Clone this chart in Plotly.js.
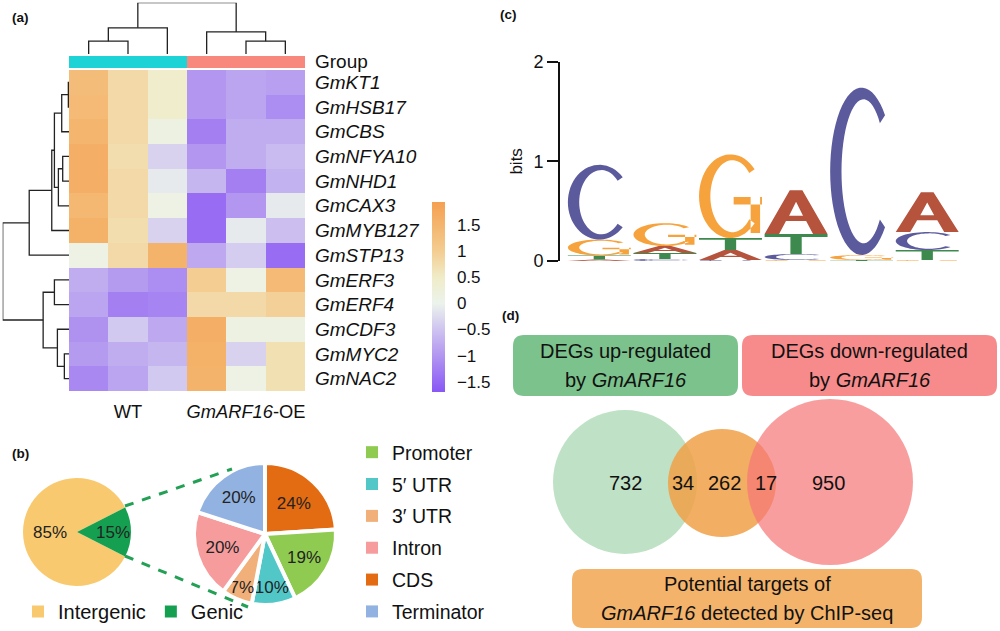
<!DOCTYPE html>
<html><head><meta charset="utf-8">
<script src="https://cdn.plot.ly/plotly-3.0.1.min.js"></script>
<style>html,body{margin:0;padding:0;background:#fff}#chart{width:1000px;height:631px}</style>
</head><body><div id="chart"></div>
<script>
// ================= DATA =================
// (a) heatmap
const genes = ['GmKT1','GmHSB17','GmCBS','GmNFYA10','GmNHD1','GmCAX3','GmMYB127','GmSTP13','GmERF3','GmERF4','GmCDF3','GmMYC2','GmNAC2'];
const sampleGroup = [0,0,0,1,1,1];
const groupNames = ['WT','<i>GmARF16</i>-OE'];
const expr = [
  [ 1.35, 0.80, 0.45,-1.00,-0.85,-0.90],
  [ 1.40, 0.80, 0.45,-1.00,-0.85,-1.10],
  [ 1.50, 0.80, 0.15,-1.25,-0.75,-0.75],
  [ 1.65, 0.75,-0.35,-1.00,-0.75,-0.60],
  [ 1.65, 0.80,-0.10,-0.65,-1.25,-0.70],
  [ 1.45, 0.80, 0.10,-1.45,-1.00,-0.10],
  [ 1.60, 0.75,-0.35,-1.45,-0.10,-0.55],
  [ 0.10, 0.80, 1.55,-0.80,-0.40,-1.45],
  [-0.75,-0.95,-1.10, 1.00, 0.10, 1.40],
  [-0.85,-1.25,-1.20, 0.80, 0.80, 0.95],
  [-1.05,-0.45,-0.80, 1.65, 0.15, 0.15],
  [-0.95,-0.75,-0.65, 1.60,-0.35, 0.70],
  [-1.15,-0.85,-0.45, 1.55, 0.10, 0.70]
];
// hierarchical clustering merges: [childA, childB, height]; leaves 0..n-1, merged clusters n, n+1, ...
const rowLinkage = [[0,1,0.1],[13,2,1.1],[3,4,0.95],[15,5,1.6],[14,16,2.2],[17,6,2.6],[18,7,6.0],
                    [8,9,2.2],[11,12,0.7],[10,21,1.75],[20,22,3.9],[19,23,10]];
const colLinkage = [[0,1,2.5],[6,2,5.1],[4,5,2.5],[3,8,4.3],[7,9,10]];
const cbTicks = [-1.5,-1,-0.5,0,0.5,1,1.5];

// (b) pies
const pie1Labels = ['Intergenic','Genic'];
const pie1Values = [85,15];
const pie2Labels = ['CDS','Promoter','5\u2032 UTR','3\u2032 UTR','Intron','Terminator'];
const pie2Values = [24,19,10,7,20,20];
const legend2Order = ['Promoter','5\u2032 UTR','3\u2032 UTR','Intron','CDS','Terminator'];

// (c) sequence logo (bits per base per position)
const logoPositions = [1,2,3,4,5,6];
const bitsA = [0.015,0.07,0.10,0.44,0.00,0.40];
const bitsC = [0.75, 0.02,0.01,0.06,1.68,0.18];
const bitsG = [0.16, 0.23,0.84,0.01,0.05,0.01];
const bitsT = [0.04, 0.06,0.12,0.20,0.01,0.10];

// (d) Venn
const vennSets = [['DEGs up-regulated','by <i>GmARF16</i>'],['DEGs down-regulated','by <i>GmARF16</i>'],
                  ['Potential targets of','<i>GmARF16</i> detected by ChIP-seq']];
const vennCounts = [732,34,262,17,950];

// ================= STYLE =================
const FONT = 'Arial, "Liberation Sans", sans-serif';
const W = 1000, H = 631;
const px = v => v / W, py = v => 1 - v / H;
const pie1Colors = ['#f9c96f','#14a050'];
const pie2ColorMap = {'CDS':'#e36b12','Promoter':'#8ecb50','5\u2032 UTR':'#52c7c8','3\u2032 UTR':'#f1b07a','Intron':'#f69c9d','Terminator':'#92b3e2'};
const baseColors = {A:'#b5533c', C:'#5b5a9c', G:'#f7a33d', T:'#3e8a4e'};

// ================= HELPERS =================
function dendroLines(linkage, n) {
  const pos = [], ht = [];
  for (let i = 0; i < n; i++) { pos[i] = i; ht[i] = 0; }
  const P = [], Hh = [];
  linkage.forEach((m, k) => {
    const [a, b, h] = m, c = n + k;
    pos[c] = (pos[a] + pos[b]) / 2; ht[c] = h;
    P.push(pos[a], pos[a], pos[b], pos[b], null);
    Hh.push(ht[a], h, h, ht[b], null);
  });
  return {P, Hh};
}

// unit glyph outlines (x,y in 0..1)
function arcPts(cx, cy, rx, ry, a0, a1, steps) {
  const pts = [];
  for (let i = 0; i <= steps; i++) {
    const a = (a0 + (a1 - a0) * i / steps) * Math.PI / 180;
    pts.push([cx + rx * Math.cos(a), cy + ry * Math.sin(a)]);
  }
  return pts;
}
function glyphC(open) {
  const outer = arcPts(0.5, 0.5, 0.5, 0.5, open, 360 - open, 48);
  const inner = arcPts(0.53, 0.5, 0.35, 0.43, 360 - open, open, 48);
  return [outer.concat(inner)];
}
const GLYPHS = {
  A: [[[0,0],[0.40,1],[0.60,1],[1,0],[0.77,0],[0.66,0.30],[0.34,0.30],[0.23,0]],
      [[0.39,0.42],[0.61,0.42],[0.5,0.74]]],
  C: glyphC(42),
  G: glyphC(40).concat([[[0.55,0.40],[1.0,0.40],[1.0,0.49],[0.55,0.49]],
                        [[0.82,0.06],[0.97,0.06],[0.97,0.49],[0.82,0.49]]]),
  T: [[[0,1],[1,1],[1,0.85],[0.59,0.85],[0.59,0],[0.41,0],[0.41,0.85],[0,0.85]]]
};
function glyphPath(letter, xc, y0, h) {
  const w = 0.96;
  return GLYPHS[letter].map(poly => 'M' + poly.map(p =>
    (xc - w / 2 + p[0] * w).toFixed(4) + ',' + (y0 + p[1] * h).toFixed(4)).join('L') + 'Z').join(' ');
}

// ================= TRACES =================
const traces = [];
const rows = genes.map((g, i) => i);
const cols = sampleGroup.map((g, i) => i);

traces.push({
  type: 'heatmap', z: expr, x: cols, y: rows, xaxis: 'x', yaxis: 'y',
  zmin: -1.7, zmax: 1.95,
  colorscale: [[0,'rgb(137,87,245)'],[0.192,'rgb(178,150,240)'],[0.329,'rgb(207,196,240)'],
               [0.466,'rgb(236,243,236)'],[0.603,'rgb(240,236,200)'],[0.74,'rgb(243,205,145)'],[1,'rgb(245,160,80)']],
  colorbar: {x: px(432), xanchor: 'left', xpad: 0, ypad: 0, y: py(297), yanchor: 'middle',
             len: 190, lenmode: 'pixels', thickness: 13, outlinewidth: 0, ticks: 'outside', ticklen: 9,
             tickcolor: 'rgba(0,0,0,0)',
             tickvals: cbTicks, ticktext: cbTicks.map(v => String(v).replace('-', '\u2212')),
             tickfont: {family: FONT, size: 17, color: '#111'}},
  hoverinfo: 'skip'
});
traces.push({
  type: 'heatmap', z: [sampleGroup], x: cols, y: [0], xaxis: 'x', yaxis: 'y2',
  zmin: 0, zmax: 1, showscale: false,
  colorscale: [[0,'#1dd3d6'],[0.5,'#1dd3d6'],[0.5,'#f8877e'],[1,'#f8877e']], hoverinfo: 'skip'
});
const cd = dendroLines(colLinkage, sampleGroup.length);
traces.push({type: 'scatter', mode: 'lines', x: cd.P, y: cd.Hh, xaxis: 'x', yaxis: 'y3',
  line: {color: '#222', width: 1.3}, showlegend: false, hoverinfo: 'skip'});
const rd = dendroLines(rowLinkage, genes.length);
traces.push({type: 'scatter', mode: 'lines', x: rd.Hh, y: rd.P, xaxis: 'x2', yaxis: 'y',
  line: {color: '#222', width: 1.3}, showlegend: false, hoverinfo: 'skip'});

// pies
traces.push({
  type: 'pie', labels: pie1Labels, values: pie1Values, sort: false, direction: 'clockwise',
  rotation: 90 + (pie1Values[1] / 100) * 180,
  marker: {colors: pie1Colors}, texttemplate: '%{value}%', textposition: 'inside',
  insidetextorientation: 'horizontal', textfont: {family: FONT, size: 17, color: '#222'},
  domain: {x: [px(23), px(131)], y: [py(586), py(478)]}, legend: 'legend', hoverinfo: 'skip'
});
traces.push({
  type: 'pie', labels: pie2Labels, values: pie2Values, sort: false, direction: 'clockwise', rotation: 0,
  marker: {colors: pie2Labels.map(l => pie2ColorMap[l]), line: {color: '#fff', width: 4}},
  texttemplate: '%{value}%', textposition: 'inside', insidetextorientation: 'horizontal',
  textfont: {family: FONT, size: 17, color: '#222'}, showlegend: false,
  domain: {x: [px(194), px(336)], y: [py(605), py(463)]}, hoverinfo: 'skip'
});
// legend entries for the exploded pie
legend2Order.forEach(l => traces.push({
  type: 'scatter', mode: 'markers', x: [null], y: [null], xaxis: 'x3', yaxis: 'y4', name: l,
  legend: 'legend2', legendgroup: l, marker: {symbol: 'square', size: 12, color: pie2ColorMap[l]}
}));

// ================= SHAPES =================
const shapes = [];
// logo letters (stacked, smallest at bottom)
logoPositions.forEach((p, i) => {
  const stack = [['A', bitsA[i]], ['C', bitsC[i]], ['G', bitsG[i]], ['T', bitsT[i]]]
    .filter(s => s[1] > 0).sort((a, b) => a[1] - b[1]);
  let y0 = 0;
  stack.forEach(([L, h]) => {
    shapes.push({type: 'path', xref: 'x3', yref: 'y4', path: glyphPath(L, p, y0, h),
      fillcolor: baseColors[L], line: {width: 0}, layer: 'above'});
    y0 += h;
  });
});
// dashed connectors between pies
[[125,506,232,469],[125,556,248,607]].forEach(s => shapes.push({type: 'line', xref: 'paper', yref: 'paper',
  x0: px(s[0]), y0: py(s[1]), x1: px(s[2]), y1: py(s[3]), line: {color: '#22a055', width: 3, dash: 'dash'}}));
// Venn boxes
function rrect(x0, y0, x1, y1, r) {
  const X = px, Y = py, rx = r;
  return `M${X(x0+rx)},${Y(y0)} L${X(x1-rx)},${Y(y0)} Q${X(x1)},${Y(y0)} ${X(x1)},${Y(y0+rx)} L${X(x1)},${Y(y1-rx)} Q${X(x1)},${Y(y1)} ${X(x1-rx)},${Y(y1)} L${X(x0+rx)},${Y(y1)} Q${X(x0)},${Y(y1)} ${X(x0)},${Y(y1-rx)} L${X(x0)},${Y(y0+rx)} Q${X(x0)},${Y(y0)} ${X(x0+rx)},${Y(y0)} Z`;
}
const vennBoxes = [[513,335,738,396,'#7cc28c'],[742,335,997,396,'#f78b8b'],[572,569,922,628,'#f4b36a']];
vennBoxes.forEach(b =>
  shapes.push({type: 'path', xref: 'paper', yref: 'paper', path: rrect(b[0], b[1], b[2], b[3], 11),
    fillcolor: b[4], line: {width: 0}, layer: 'below'}));
// Venn circles
[[625,482,72,'rgba(128,196,140,0.5)'],[722,483,54,'rgba(240,160,70,0.85)'],[830,482,83,'rgba(245,120,120,0.72)']].forEach(c =>
  shapes.push({type: 'circle', xref: 'paper', yref: 'paper', x0: px(c[0]-c[2]), x1: px(c[0]+c[2]),
    y0: py(c[1]+c[2]), y1: py(c[1]-c[2]), fillcolor: c[3], line: {width: 0}, layer: 'below'}));

// ================= ANNOTATIONS =================
const ann = [];
const A = (x, y, text, size, opts) => ann.push(Object.assign({xref: 'paper', yref: 'paper', x: px(x), y: py(y),
  xanchor: 'center', yanchor: 'middle', text, showarrow: false, font: {family: FONT, size, color: '#111'}}, opts || {}));
A(10, 17, '<b>(a)</b>', 13.5, {xanchor: 'left'});
A(10, 453, '<b>(b)</b>', 13.5, {xanchor: 'left'});
A(498, 15, '<b>(c)</b>', 13.5, {xanchor: 'left'});
A(500, 315, '<b>(d)</b>', 13.5, {xanchor: 'left'});
A(313, 62, 'Group', 19, {xanchor: 'left'});
vennSets.forEach((lines, i) => {
  const b = vennBoxes[i], cx = (b[0] + b[2]) / 2, cy = (b[1] + b[3]) / 2;
  A(cx, cy - 14.5, lines[0], 20);
  A(cx, cy + 14.5, lines[1], 20);
});
const vennX = [625, 683, 724, 766, 828];
vennCounts.forEach((v, i) => A(vennX[i], 483, String(v), 20));

// ================= LAYOUT =================
const noAx = {visible: false, fixedrange: true};
const layout = {
  width: W, height: H, margin: {l: 0, r: 0, t: 0, b: 0}, paper_bgcolor: '#fff', plot_bgcolor: 'rgba(0,0,0,0)',
  font: {family: FONT, color: '#111'}, showlegend: true,
  uniformtext: {mode: 'show', minsize: 17},
  xaxis: {domain: [px(69), px(305)], range: [-0.5, 5.5], anchor: 'y', tickvals: [1, 4], ticktext: groupNames,
          ticks: '', showgrid: false, zeroline: false, showline: false, ticklabelstandoff: 8,
          tickfont: {family: FONT, size: 18.3, color: '#111'}, fixedrange: true},
  yaxis: {domain: [py(391), py(70)], range: [12.5, -0.5], anchor: 'x', side: 'right',
          tickvals: rows, ticktext: genes.map(g => '<i>' + g + '</i>'), ticks: '', showgrid: false,
          zeroline: false, showline: false, ticklabelstandoff: 9,
          tickfont: {family: FONT, size: 19, color: '#111'}, fixedrange: true},
  yaxis2: Object.assign({domain: [py(68), py(56)], anchor: 'x', range: [-0.5, 0.5]}, noAx),
  yaxis3: Object.assign({domain: [py(54), py(2.7)], anchor: 'x', range: [0, 10]}, noAx),
  xaxis2: Object.assign({domain: [px(2.7), px(69)], anchor: 'y', range: [10, 0]}, noAx),
  xaxis3: Object.assign({domain: [px(560), px(960)], anchor: 'y4', range: [0.4, 6.5]}, noAx),
  yaxis4: {domain: [py(261), py(61.7)], anchor: 'x3', range: [0, 2], tickvals: [0, 1, 2], showline: true,
           linewidth: 2, linecolor: '#111', ticks: 'outside', ticklen: 11, tickwidth: 2, tickcolor: '#111',
           showgrid: false, zeroline: false, tickfont: {family: FONT, size: 18, color: '#111'},
           title: {text: 'bits', font: {family: FONT, size: 17, color: '#111'}, standoff: 6}, fixedrange: true},
  legend: {orientation: 'h', x: px(18), y: py(631), xanchor: 'left', yanchor: 'bottom', itemwidth: 30,
           font: {family: FONT, size: 20, color: '#111'}, bgcolor: 'rgba(0,0,0,0)'},
  legend2: {x: px(352), y: py(631), xanchor: 'left', yanchor: 'bottom', tracegroupgap: 3.5,
            font: {family: FONT, size: 19.5, color: '#111'}, bgcolor: 'rgba(0,0,0,0)'},
  shapes, annotations: ann
};
Plotly.newPlot('chart', traces, layout, {staticPlot: true, displayModeBar: false});
</script></body></html>
